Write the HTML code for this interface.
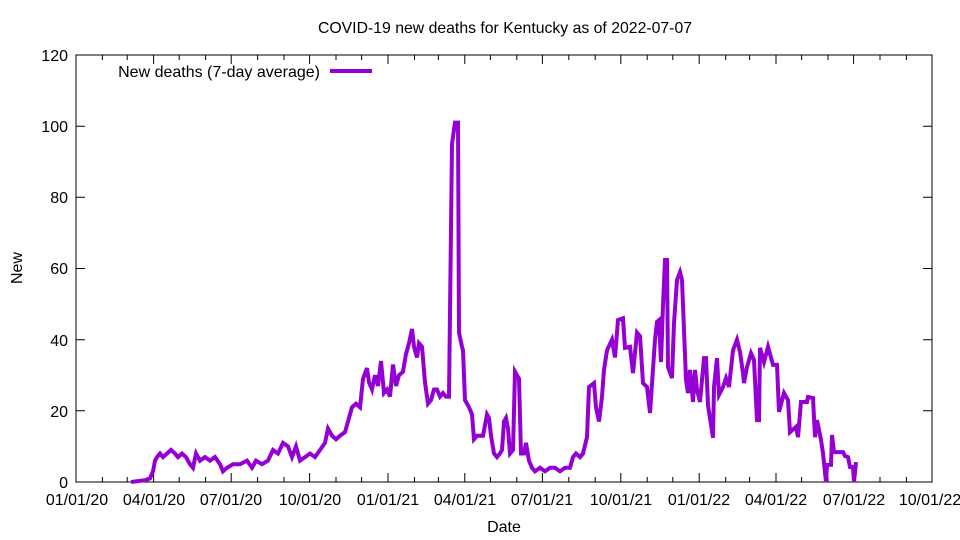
<!DOCTYPE html>
<html><head><meta charset="utf-8"><style>
html,body{margin:0;padding:0;background:#fff;}
svg{display:block;font-family:"Liberation Sans",sans-serif;}
</style></head><body>
<svg width="960" height="540" viewBox="0 0 960 540" xmlns="http://www.w3.org/2000/svg">
<rect width="960" height="540" fill="#fff"/>
<text x="505" y="33" font-size="15.8" text-anchor="middle">COVID-19 new deaths for Kentucky as of 2022-07-07</text>
<g stroke="#000" stroke-width="1" fill="none">
<rect x="76" y="55" width="856" height="427"/>
<path d="M76 482h9M932 482h-9M76 410.8h9M932 410.8h-9M76 339.7h9M932 339.7h-9M76 268.5h9M932 268.5h-9M76 197.3h9M932 197.3h-9M76 126.2h9M932 126.2h-9M76 55h9M932 55h-9"/>
<path d="M76 482v-9M153.6 482v-9M231.2 482v-9M309.6 482v-9M388 482v-9M464.8 482v-9M542.4 482v-9M620.8 482v-9M699.2 482v-9M776 482v-9M853.6 482v-9M932 482v-9
M76 55v9M153.6 55v9M231.2 55v9M309.6 55v9M388 55v9M464.8 55v9M542.4 55v9M620.8 55v9M699.2 55v9M776 55v9M853.6 55v9
M102.4 482v-5M127.2 482v-5M179.2 482v-5M205.6 482v-5M257.6 482v-5M284 482v-5M336 482v-5M361.6 482v-5M414.5 482v-5M438.4 482v-5M490.4 482v-5M516.8 482v-5M568.8 482v-5M595.2 482v-5M647.2 482v-5M672.8 482v-5M725.7 482v-5M749.6 482v-5M801.6 482v-5M828 482v-5M880 482v-5M906.4 482v-5
M102.4 55v5M127.2 55v5M179.2 55v5M205.6 55v5M257.6 55v5M284 55v5M336 55v5M361.6 55v5M414.5 55v5M438.4 55v5M490.4 55v5M516.8 55v5M568.8 55v5M595.2 55v5M647.2 55v5M672.8 55v5M725.7 55v5M749.6 55v5M801.6 55v5M828 55v5M880 55v5M906.4 55v5"/>
</g>
<g font-size="16" text-anchor="end">
<text x="68" y="488">0</text><text x="68" y="417">20</text><text x="68" y="346">40</text><text x="68" y="274">60</text><text x="68" y="203">80</text><text x="68" y="132">100</text><text x="68" y="61">120</text>
</g>
<g font-size="16" text-anchor="middle">
<text x="77" y="505">01/01/20</text><text x="154" y="505">04/01/20</text><text x="231" y="505">07/01/20</text><text x="310" y="505">10/01/20</text><text x="388" y="505">01/01/21</text><text x="465" y="505">04/01/21</text><text x="542" y="505">07/01/21</text><text x="621" y="505">10/01/21</text><text x="699" y="505">01/01/22</text><text x="776" y="505">04/01/22</text><text x="854" y="505">07/01/22</text><text x="930" y="505">10/01/22</text>
</g>
<text x="504" y="532" font-size="16" text-anchor="middle">Date</text>
<text x="22" y="268" font-size="16" text-anchor="middle" transform="rotate(-90 22 268)">New</text>
<text x="320" y="77" font-size="16" text-anchor="end">New deaths (7-day average)</text>
<path d="M330 71h42" stroke="#9400D3" stroke-width="4"/>
<g transform="translate(0,482) scale(1,-3.5583)">
<polyline fill="none" stroke="#9400D3" stroke-width="4" vector-effect="non-scaling-stroke" stroke-linejoin="miter" points="
131,0 145,0.5 150,1 153,3 155,6 157,7 160,8 163,7 167,8 171,9 175,8 178,7 182,8 186,7 190,5 193,4 196,8 200,6 205,7 210,6 215,7 220,5 223,3 227,4 233,5 240,5 247,6 252,4 256,6 262,5 268,6 273,9 278,8 283,11 288,10 292,7 296,10 300,6 305,7 310,8 315,7 320,9 325,11 328,15 332,13 336,12 340,13 345,14 349,18 352,21 356,22 360,21 363,29 367,32 369,28 372,26 375,30 378,27 381,34 384,25 387,26 390,24 393,33 396,27 399,30 403,31 406,36 409,39 412,43 414,38 417,35 419,39 422,38 425,28 428,22 431,23 434,26 437,26 440,24 443,25 446,24 449,24 452,95 455,101 458,101 459,42 462,38 463,37 465,23 469,21 472,19 474,12 477,13 483,13 487,19 489,18 491,13 494,8 497,7 500,8 502,9 504,17 506,18 508,15 510,8 513,9 515,31 519,29 521,8 524,8 526,11 529,6 532,4 535,3 540,4 545,3 550,4 555,4 560,3 565,4 570,4 573,7 576,8 580,7 583,8 587,12.6 589,26.7 594,27.8 596,21 599,17 602,24 604,31.5 607,37 612,40 615,35 618,45.5 623,46 625,37.7 630,38 633,30.6 637,42 640,41 643,27.8 647,26.7 650,19.4 655,40 657,45 659,45.5 661,33.7 663,49.7 665,62.4 667,62.4 668,32.3 672,29.2 674,44.7 677,56.8 680,59 682,56.8 686,28.7 688,25 690,31.5 693,22.5 695,31.5 697,25.9 700,22.5 704,34.8 706,34.8 708,21.6 713,12.4 714,26.7 717,34.8 719,24.5 723,26.7 726,29.2 729,26.7 733,37 737,40 740,36.5 743,30.6 744,27.8 747,32.3 751,36.2 754,34.3 757,17.4 759,17.4 760,37.7 764,33.7 768,38 773,32.9 777,32.9 779,19.7 784,25 788,23 790,14 796,15.5 798,12.6 801,22.5 807,22.5 808,23.9 813,23.6 815,12.6 817,17.4 821,11.8 823,8.1 826,0 827,4.8 831,4.8 832,13.2 834,8.4 843,8.4 845,7.3 848,7 850,4.2 853,4.2 854,0 856,5.6"/>
</g>
</svg>
</body></html>
